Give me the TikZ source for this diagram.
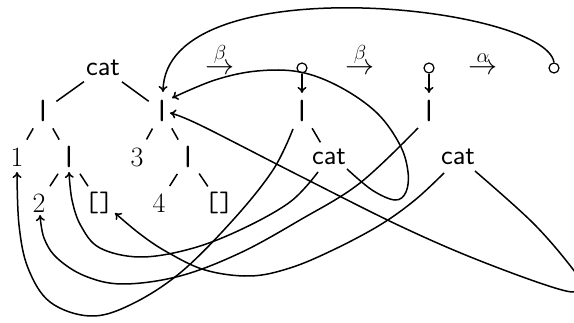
\documentclass[tikz,border=0pt]{standalone}
\usepackage{fix-cm}
\usepackage{fontspec}
\usetikzlibrary{arrows.meta,calc}
\begin{document}
\begin{tikzpicture}[x=1pt,y=-1pt,line width=1.5pt,
  every node/.style={inner sep=0pt},
  big/.style={font=\fontsize{29}{34}\selectfont},
  sfn/.style={font=\fontsize{28}{34}\selectfont\sffamily},
  ttn/.style={font=\fontsize{28}{34}\selectfont\ttfamily},
  barn/.style={font=\fontsize{28}{34}\selectfont\ttfamily\bfseries},
  rmn/.style={font=\fontsize{28}{34}\selectfont\rmfamily},
  ptr/.style={circle,draw,minimum size=10pt,inner sep=0pt,line width=1.2pt},
  edgetop/.style={shorten <=23.5pt,shorten >=16.5pt},
  edgemid/.style={shorten <=20pt,shorten >=20pt},
  edgecat/.style={shorten <=20pt,shorten >=17pt},
  link/.style={-{To[length=6pt,width=9pt]},line width=1.5pt},
  curve/.style={smooth,tension=0.6}]
\useasboundingbox (0,0) rectangle (574,323);
\clip (0,0) rectangle (574,323);
% first tree
\node[sfn] (cat1) at (103,68) {cat};
\node[barn] (b1) at (43,111) {|};
\node[barn] (b2) at (162,111) {|};
\node[rmn] (one) at (17,157) {1};
\node[barn] (b3) at (69,157) {|};
\node[rmn] (three) at (137,157) {3};
\node[barn] (b4) at (188,157) {|};
\node[rmn] (two) at (39,203) {2};
\node[ttn] (nil1) at (99,203) {[]};
\node[rmn] (four) at (159,203) {4};
\node[ttn] (nil2) at (219,203) {[]};
\draw[edgetop] (cat1.center) -- (b1.center);
\draw[edgetop] (cat1.center) -- (b2.center);
\draw[edgemid] (b1.center) -- (one.center);
\draw[edgemid] (b1.center) -- (b3.center);
\draw[edgemid] (b2.center) -- (three.center);
\draw[edgemid] (b2.center) -- (b4.center);
\draw[edgemid] (b3.center) -- (two.center);
\draw[edgemid] (b3.center) -- (nil1.center);
\draw[edgemid] (b4.center) -- (four.center);
\draw[edgemid] (b4.center) -- (nil2.center);
% transitions
\node[big,anchor=base] (t1) at (220,75) {$\stackrel{\beta}{\to}$};
\node[big,anchor=base] (t2) at (360,75) {$\stackrel{\beta}{\to}$};
\node[big,anchor=base] (t3) at (483,75) {$\stackrel{\alpha}{\to}$};
% second tree
\node[ptr] (p1) at (302,68) {};
\node[barn] (mb) at (302,111) {|};
\node[sfn] (mc) at (329,157) {cat};
\draw[link] (p1) -- ($(mb)+(0,-18)$);
\draw[edgecat] (mb.center) -- (mc.center);
% third tree
\node[ptr] (p2) at (429,68) {};
\node[barn] (rb) at (429,111) {|};
\node[sfn] (rc) at (458,157) {cat};
\draw[link] (p2) -- ($(rb)+(0,-18)$);
\node[ptr] (p3) at (554,68) {};
% links
\draw[link] (p3.north) .. controls (545,5) and (165,-35) .. ($(b2)+(1,-19)$);
\draw[link] plot[curve] coordinates {($(mc)+(18,12)$) (372,190) (395,200) (406,192) (408,172) (400,145) (377,113) (340,87) (300,72) (257,71) (215,80) ($(b2)+(10,-13)$)};
\draw[link] plot[curve] coordinates {($(mb)+(-9,18)$) (273,170) (233,220) (180,273) (130,305) (90,316) (50,302) (28,268) (19,225) ($(one)+(0,15)$)};
\draw[link] plot[curve] coordinates {($(mc)+(-11,15)$) (290,202) (240,230) (190,249) (140,257) (100,248) (81,226) (72,200) ($(b3)+(0,15)$)};
\draw[link] plot[curve] coordinates {($(rb)+(-11,17)$) (360,183) (300,220) (240,253) (180,276) (123,284) (85,276) (57,258) (44,238) ($(two)+(1,12)$)};
\draw[link] plot[curve] coordinates {($(rc)+(-14,16)$) (415,200) (380,225) (333,250) (290,268) (250,276) (205,270) (167,252) (140,234) ($(nil1)+(16,10)$)};
\draw[link] plot[curve] coordinates {($(rc)+(17,14)$) (533,223) (572,268) (580,284) (566,291) (483,262) (400,226) (300,176) (200,125) ($(b2)+(8,2)$)};
\end{tikzpicture}
\end{document}
